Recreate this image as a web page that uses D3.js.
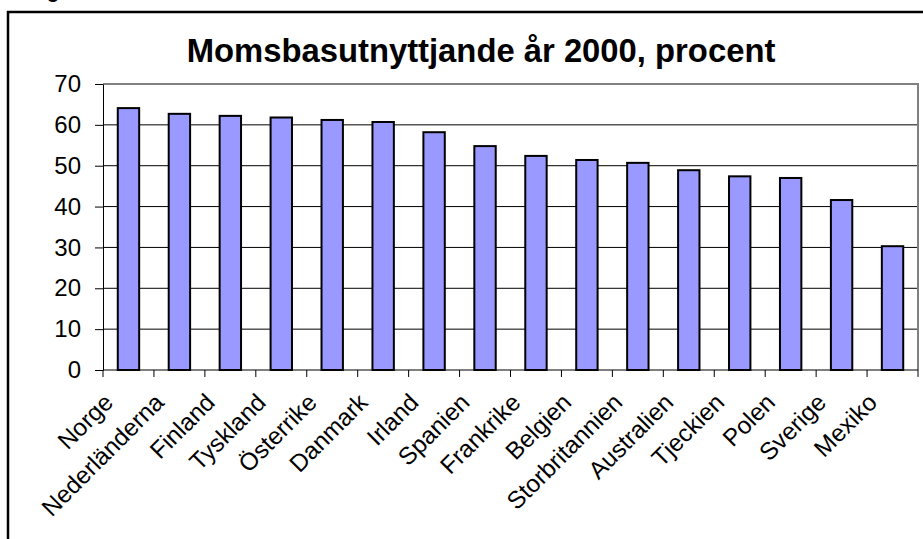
<!DOCTYPE html>
<html><head><meta charset="utf-8">
<script src="https://cdn.jsdelivr.net/npm/d3@7"></script>
<style>
html,body{margin:0;padding:0;background:#fff;overflow:hidden}
text{font-family:"Liberation Sans",Arial,sans-serif}
</style></head>
<body>
<svg id="c" width="923" height="539"></svg>
<script>
const categories = ["Norge","Nederländerna","Finland","Tyskland","Österrike","Danmark","Irland","Spanien","Frankrike","Belgien","Storbritannien","Australien","Tjeckien","Polen","Sverige","Mexiko"];
const values = [64.1,62.7,62.2,61.8,61.2,60.7,58.2,54.8,52.4,51.4,50.7,48.9,47.4,47.0,41.6,30.3];
const yTicks = [0,10,20,30,40,50,60,70];
const title = "Momsbasutnyttjande år 2000, procent";
const caption = "Diagram";

const svg = d3.select("#c");
const L = 103, R = 918, T = 84, B = 370;

const x = d3.scaleBand().domain(categories).range([L, R]).paddingInner(0.58).paddingOuter(0.29);
const y = d3.scaleLinear().domain([0, 70]).range([B, T]);

// cut-off caption at top (only its descender is visible, as in the reference)
svg.append("text").attr("x", 16).attr("y", -2).attr("font-size", 20).attr("font-weight", "bold").text(caption);

// outer chart border
svg.append("rect").attr("x", 8).attr("y", 12).attr("width", 940).attr("height", 560)
  .attr("fill", "none").attr("stroke", "#000").attr("stroke-width", 2.5);

// title
svg.append("text").attr("x", 481).attr("y", 62).attr("text-anchor", "middle")
  .attr("font-size", 32.8).attr("font-weight", "bold").attr("fill", "#000").text(title);

// gridlines
svg.append("g").selectAll("line").data(yTicks.filter(d => d > 0 && d < 70)).join("line")
  .attr("x1", L).attr("x2", R).attr("y1", d => y(d)).attr("y2", d => y(d))
  .attr("stroke", "#000").attr("stroke-width", 1);

// plot border top & right (grey)
svg.append("path").attr("d", `M${L},${y(70)}H${R}V${B}`).attr("fill", "none")
  .attr("stroke", "#808080").attr("stroke-width", 2);

// bars
svg.append("g").selectAll("rect").data(values).join("rect")
  .attr("x", (d, i) => x(categories[i]))
  .attr("y", d => y(d))
  .attr("width", x.bandwidth())
  .attr("height", d => B - y(d))
  .attr("fill", "#9999FF").attr("stroke", "#000").attr("stroke-width", 2);

// y axis
const yAxis = d3.axisLeft(y).tickValues(yTicks).tickSize(8).tickPadding(14).tickSizeOuter(0);
const gy = svg.append("g").attr("transform", `translate(${L},0)`).call(yAxis);
gy.select(".domain").attr("stroke", "#000").attr("stroke-width", 1);
gy.selectAll(".tick line").attr("stroke", "#000");
gy.selectAll(".tick text").attr("font-size", 24).attr("fill", "#000")
  .attr("font-family", "'Liberation Sans',Arial,sans-serif");

// x axis: ticks at category boundaries
const step = x.step();
const bounds = d3.range(categories.length + 1).map(i => L + i * step);
svg.append("line").attr("x1", L).attr("x2", R).attr("y1", B).attr("y2", B).attr("stroke", "#000").attr("stroke-width", 1);
svg.append("g").selectAll("line").data(bounds).join("line")
  .attr("x1", d => d).attr("x2", d => d).attr("y1", B).attr("y2", B + 7)
  .attr("stroke", "#000").attr("stroke-width", 1);

// x labels
svg.append("g").selectAll("text").data(categories).join("text")
  .attr("transform", d => `translate(${x(d) + x.bandwidth() / 2 - 14},404) rotate(-45)`)
  .attr("text-anchor", "end").attr("font-size", 24.3).attr("fill", "#000").text(d => d);
</script>
</body></html>
